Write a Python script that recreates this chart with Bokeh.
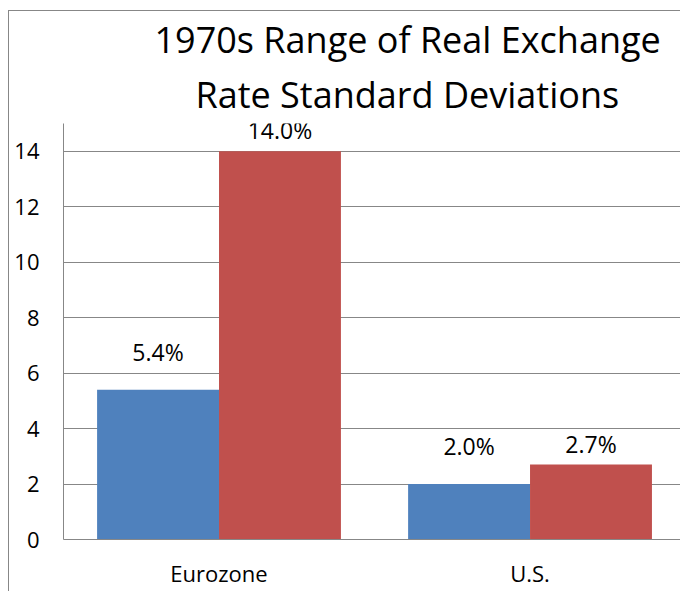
from bokeh.plotting import figure
from bokeh.models import ColumnDataSource, Range1d, FixedTicker, LabelSet, Title
from bokeh.embed import file_html
from bokeh.resources import INLINE
from bokeh.core.properties import value

# ---- data ----
categories = ["Eurozone", "U.S."]
series_blue = [5.4, 2.0]
series_red = [14.0, 2.7]
y_ticks = [0, 2, 4, 6, 8, 10, 12, 14]
title_lines = ["1970s Range of Real Exchange", "Rate Standard Deviations"]

# ---- style ----
BLUE = "#4F81BD"
RED = "#C0504D"
GRID = "#878787"
FONT = "Open Sans"
bar_w = 0.392
blue_label_offset = 29
red_label_offset = 12

cat_pos = [i + 0.5 for i in range(len(categories))]
blue_x = [c - bar_w / 2 for c in cat_pos]
red_x = [c + bar_w / 2 for c in cat_pos]

p = figure(width=672, height=581, output_backend="svg", toolbar_location=None,
           x_range=Range1d(0, 1.987), y_range=Range1d(0, 15), title=None,
           min_border_left=54, min_border_right=0, min_border_top=112, min_border_bottom=53,
           margin=(10, 0, 0, 8))
p.styles = {"border-left": "1px solid #878787", "border-top": "1px solid #878787"}
p.background_fill_color = "white"
p.border_fill_color = "white"
p.outline_line_color = None

src_b = ColumnDataSource(dict(x=blue_x, top=series_blue,
                              lab=[f"{v:.1f}%" for v in series_blue],
                              off=[blue_label_offset] * len(series_blue)))
src_r = ColumnDataSource(dict(x=red_x, top=series_red,
                              lab=[f"{v:.1f}%" for v in series_red],
                              off=[red_label_offset] * len(series_red)))

p.vbar(x="x", top="top", bottom=0, width=bar_w, source=src_b, fill_color=BLUE, line_color=None)
p.vbar(x="x", top="top", bottom=0, width=bar_w, source=src_r, fill_color=RED, line_color=None)

for s in (src_b, src_r):
    p.add_layout(LabelSet(x="x", y="top", text="lab", y_offset="off", source=s,
                          text_align="center", text_baseline="alphabetic",
                          text_font=value(FONT), text_font_size="23px", text_color="black"))

# axes
p.xaxis.ticker = FixedTicker(ticks=cat_pos)
p.xaxis.major_label_overrides = {c: n for c, n in zip(cat_pos, categories)}
p.xaxis.major_tick_out = 0
p.xaxis.major_tick_in = 0
p.xaxis.minor_tick_out = 0
p.xaxis.minor_tick_in = 0
p.xaxis.axis_line_color = GRID
p.xaxis.major_label_standoff = 18
p.xaxis.major_label_text_font = FONT
p.xaxis.major_label_text_font_size = "22px"
p.xaxis.major_label_text_color = "black"

p.yaxis.ticker = FixedTicker(ticks=y_ticks)
p.yaxis.major_tick_out = 0
p.yaxis.major_tick_in = 0
p.yaxis.minor_tick_out = 0
p.yaxis.minor_tick_in = 0
p.yaxis.axis_line_color = GRID
p.yaxis.major_label_standoff = 24
p.yaxis.major_label_text_font = FONT
p.yaxis.major_label_text_font_size = "22px"
p.yaxis.major_label_text_color = "black"

p.xgrid.grid_line_color = None
p.ygrid.grid_line_color = GRID
p.ygrid.grid_line_width = 1

# title: two lines, nearest-to-frame first (left-aligned with offsets to centre them)
title_offsets = {0: 132, 1: 91}
for i, line in enumerate(reversed(title_lines)):
    p.add_layout(Title(text=line, align="left", offset=title_offsets[i],
                       text_font=FONT, text_font_size="36px", text_font_style="normal",
                       text_color="black", standoff=9 if i == 0 else 0), "above")

open("out.html", "w").write(file_html(p, INLINE))
